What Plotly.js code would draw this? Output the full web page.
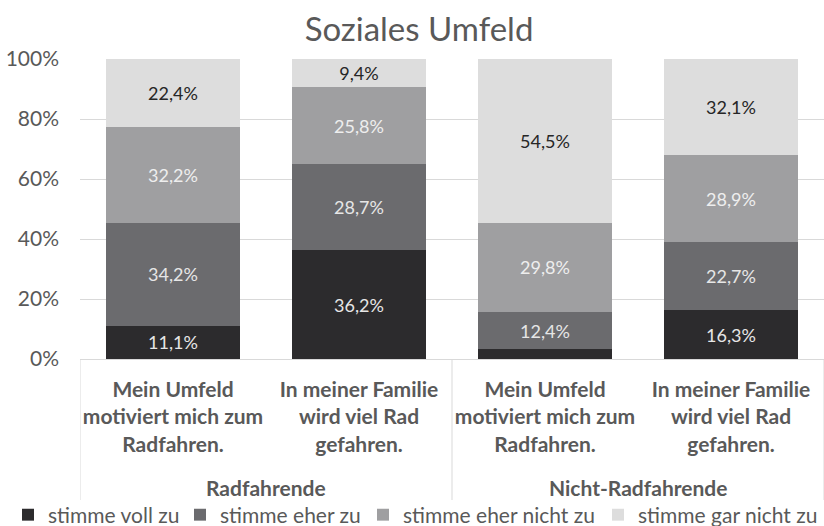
<!DOCTYPE html>
<html>
<head>
<meta charset="utf-8">
<script src="https://cdn.plot.ly/plotly-3.0.1.min.js"></script>
<style>html,body{margin:0;padding:0;background:#fff;}#chart{width:824px;height:526px;}</style>
</head>
<body>
<div id="chart"></div>
<script>
const groupNames = ['Radfahrende', 'Nicht-Radfahrende'];
const itemLabels = [
  'Mein Umfeld<br>motiviert mich zum<br>Radfahren.',
  'In meiner Familie<br>wird viel Rad<br>gefahren.',
  'Mein Umfeld<br>motiviert mich zum<br>Radfahren.',
  'In meiner Familie<br>wird viel Rad<br>gefahren.'
];
const positions = [0, 1, 2, 3];
const seriesNames = ['stimme voll zu', 'stimme eher zu', 'stimme eher nicht zu', 'stimme gar nicht zu'];
const vollZu = [11.1, 36.2, 3.3, 16.3];
const eherZu = [34.2, 28.7, 12.4, 22.7];
const eherNichtZu = [32.2, 25.8, 29.8, 28.9];
const garNichtZu = [22.4, 9.4, 54.5, 32.1];
const yTicks = [0, 20, 40, 60, 80, 100];

const seriesValues = [vollZu, eherZu, eherNichtZu, garNichtZu];
const colors = ['#2c2b2d', '#6b6b6e', '#9f9fa1', '#dddddd'];
const textColors = ['#e6e6e6', '#e6e6e6', '#eeeeee', '#262626'];
const FONT = 'Lato, "Open Sans", sans-serif';
const W = 824, H = 526;
// legend text start positions (px) of each series entry
const legendTextPx = [48, 220, 403, 638];
const legendIds = ['legend', 'legend2', 'legend3', 'legend4'];

const traces = seriesValues.map((vals, i) => ({
  type: 'bar',
  name: seriesNames[i],
  legend: legendIds[i],
  x: positions,
  y: vals,
  width: 0.72,
  text: vals.map(v => v.toFixed(1).replace('.', ',') + '%'),
  textposition: 'inside',
  insidetextanchor: 'middle',
  textangle: 0,
  textfont: {family: FONT, size: 18, color: textColors[i]},
  marker: {color: colors[i], line: {width: 0}},
  hoverinfo: 'skip'
}));

// group labels and dividers
const axisBottomPx = 359, plotH = 300;
const toPaper = px => -(px - axisBottomPx) / plotH;
const annotations = groupNames.map((g, k) => ({
  text: '<b>' + g + '</b>',
  x: 2 * k + 0.5, xref: 'x',
  y: toPaper(487), yref: 'paper',
  xanchor: 'center', yanchor: 'middle',
  showarrow: false,
  font: {family: FONT, size: 21, color: '#595959'}
}));
const dividerXs = [-0.5, 1.5, 3.5];
const shapes = dividerXs.map(x => ({
  type: 'line', xref: 'x', yref: 'paper',
  x0: x, x1: x, y0: 0, y1: toPaper(500),
  line: {color: '#d9d9d9', width: 1}
}));

const layout = {
  width: W, height: H,
  margin: {l: 80, r: 0, t: 59, b: 167},
  paper_bgcolor: '#ffffff', plot_bgcolor: '#ffffff',
  barmode: 'stack',
  uniformtext: {mode: 'hide', minsize: 15},
  font: {family: FONT, color: '#595959', size: 21},
  title: {
    text: 'Soziales Umfeld',
    x: 419/W, xref: 'container', xanchor: 'center',
    y: 1 - 29/H, yref: 'container', yanchor: 'middle',
    font: {family: FONT, size: 33, color: '#595959'}
  },
  xaxis: {
    range: [-0.5, 3.5],
    tickvals: positions,
    ticktext: itemLabels,
    showgrid: false,
    showline: false,
    zeroline: false,
    ticks: '',
    ticklabelstandoff: 16,
    tickfont: {family: FONT, size: 21, color: '#595959', weight: 'bold'}
  },
  yaxis: {
    range: [0, 100],
    tickvals: yTicks,
    ticktext: yTicks.map(t => t + '%'),
    showgrid: true,
    gridcolor: '#d9d9d9',
    gridwidth: 1,
    zeroline: true,
    zerolinecolor: '#d9d9d9',
    showline: false,
    ticks: '',
    ticklabelstandoff: 20,
    tickfont: {family: FONT, size: 21, color: '#595959'}
  },
  annotations: annotations,
  shapes: shapes,
  showlegend: true
};
legendIds.forEach((id, i) => {
  layout[id] = {
    orientation: 'h',
    x: (legendTextPx[i] - 40) / W, xref: 'container', xanchor: 'left',
    y: 1 - 515/H, yref: 'container', yanchor: 'middle',
    font: {family: FONT, size: 21, color: '#595959'},
    itemwidth: 30,
    borderwidth: 0,
    bgcolor: 'rgba(0,0,0,0)'
  };
});

Plotly.newPlot('chart', traces, layout, {displayModeBar: false, staticPlot: true});
</script>
</body>
</html>
